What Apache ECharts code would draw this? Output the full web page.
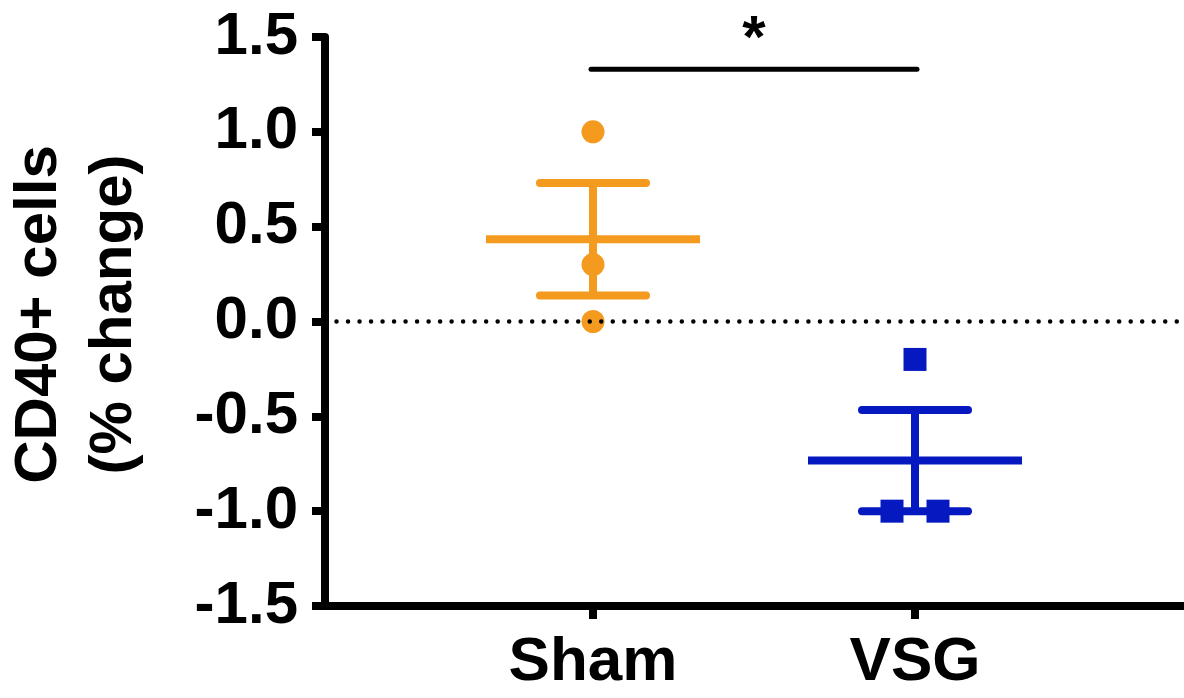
<!DOCTYPE html>
<html>
<head>
<meta charset="utf-8">
<script src="https://cdn.jsdelivr.net/npm/echarts@6/dist/echarts.min.js"></script>
<style>
html,body{margin:0;padding:0;background:#fff;}
#chart{width:1184px;height:698px;}
</style>
</head>
<body>
<div id="chart"></div>
<script>
// ---- data ----
const categories = ['Sham', 'VSG'];
const shamValues = [1.0, 0.3, 0.0];
const vsgValues = [-0.2, -1.0, -1.0];
const yTicks = [-1.5, -1.0, -0.5, 0.0, 0.5, 1.0, 1.5];
const yTitle = 'CD40+ cells\n(% change)';
const sigBar = { from: 1, to: 2, y: 1.33, label: '*' };

const groups = [shamValues, vsgValues];
const colors = ['#F49A1E', '#0619C0'];
const symbols = ['circle', 'rect'];
const FONT = "'Liberation Sans', Arial, Helvetica, sans-serif";

function stats(arr) {
  const n = arr.length;
  const mean = arr.reduce((a, b) => a + b, 0) / n;
  const sd = Math.sqrt(arr.reduce((a, b) => a + (b - mean) * (b - mean), 0) / (n - 1));
  return { mean, sem: sd / Math.sqrt(n) };
}

// scatter points with horizontal spreading of duplicates
function pointData(arr, xIdx) {
  const counts = {}, seen = {};
  arr.forEach(v => { counts[v] = (counts[v] || 0) + 1; });
  return arr.map(v => {
    const n = counts[v];
    const i = seen[v] || 0; seen[v] = i + 1;
    const off = (i - (n - 1) / 2) * 46;
    return { value: [xIdx, v], symbolOffset: [off, 0] };
  });
}

const statData = groups.map((g, i) => { const s = stats(g); return [i + 1, s.mean, s.sem]; });

const chart = echarts.init(document.getElementById('chart'));

const series = [];
// mean +/- SEM
series.push({
  type: 'custom',
  data: statData,
  z: 2,
  silent: true,
  renderItem: function (params, api) {
    const x = api.value(0), m = api.value(1), se = api.value(2);
    const c = api.coord([x, m]);
    const top = api.coord([x, m + se]);
    const bot = api.coord([x, m - se]);
    const col = colors[params.dataIndex];
    const W = 8;
    return {
      type: 'group',
      children: [
        { type: 'line', shape: { x1: c[0] - 107, y1: c[1], x2: c[0] + 107, y2: c[1] }, style: { stroke: col, lineWidth: W, lineCap: 'butt' } },
        { type: 'line', shape: { x1: c[0], y1: top[1], x2: c[0], y2: bot[1] }, style: { stroke: col, lineWidth: W, lineCap: 'butt' } },
        { type: 'line', shape: { x1: c[0] - 53, y1: top[1], x2: c[0] + 53, y2: top[1] }, style: { stroke: col, lineWidth: W, lineCap: 'round' } },
        { type: 'line', shape: { x1: c[0] - 53, y1: bot[1], x2: c[0] + 53, y2: bot[1] }, style: { stroke: col, lineWidth: W, lineCap: 'round' } }
      ]
    };
  }
});
// points
groups.forEach((g, i) => {
  series.push({
    type: 'scatter',
    name: categories[i],
    data: pointData(g, i + 1),
    symbol: symbols[i],
    symbolSize: 23,
    itemStyle: { color: colors[i], opacity: 1 },
    z: 3,
    silent: true
  });
});
// zero dotted line
series[1].markLine = {
  silent: true,
  symbol: 'none',
  label: { show: false },
  emphasis: { disabled: true },
  lineStyle: { color: '#000', width: 4.5, type: [0.01, 11.5], cap: 'round', opacity: 1 },
  data: [{ yAxis: 0 }]
};
// significance bar
series.push({
  type: 'custom',
  data: [[sigBar.from, sigBar.to, sigBar.y]],
  z: 4,
  silent: true,
  renderItem: function (params, api) {
    const a = api.coord([api.value(0), api.value(2)]);
    const b = api.coord([api.value(1), api.value(2)]);
    return {
      type: 'group',
      children: [
        { type: 'line', shape: { x1: a[0] - 2, y1: a[1], x2: b[0] + 2, y2: b[1] }, style: { stroke: '#000', lineWidth: 5, lineCap: 'round' } },
        { type: 'text', style: { text: sigBar.label, x: (a[0] + b[0]) / 2, y: a[1] - 29, align: 'center', verticalAlign: 'middle', font: 'bold 60px ' + FONT, fill: '#000' } }
      ]
    };
  }
});

chart.setOption({
  animation: false,
  backgroundColor: '#fff',
  grid: { left: 325, right: 0, top: 37, bottom: 92, containLabel: false, outerBoundsMode: 'none' },
  xAxis: {
    type: 'value',
    min: 0.1677,
    max: 2.8354,
    splitLine: { show: false },
    axisLine: { show: true, onZero: false, lineStyle: { color: '#000', width: 8 } },
    axisTick: { show: true, customValues: [1, 2], length: 13, lineStyle: { color: '#000', width: 8 } },
    axisLabel: {
      customValues: [1, 2],
      formatter: v => categories[Math.round(v) - 1] || '',
      margin: 26,
      color: '#000', fontSize: 62, fontWeight: 'bold', fontFamily: FONT
    }
  },
  yAxis: {
    type: 'value',
    min: yTicks[0],
    max: yTicks[yTicks.length - 1],
    interval: 0.5,
    splitLine: { show: false },
    axisLine: { show: true, lineStyle: { color: '#000', width: 8 } },
    axisTick: { show: true, length: 13, lineStyle: { color: '#000', width: 8 } },
    axisLabel: {
      formatter: v => v.toFixed(1),
      margin: 27,
      color: '#000', fontSize: 60, fontWeight: 'bold', fontFamily: FONT
    },
    name: yTitle,
    nameLocation: 'middle',
    nameRotate: 90,
    nameGap: 173,
    nameTextStyle: { color: '#000', fontSize: 60, fontWeight: 'bold', fontFamily: FONT, lineHeight: 75, align: 'center', padding: [0, 0, 0, 14] }
  },
  series: series
});
</script>
</body>
</html>
